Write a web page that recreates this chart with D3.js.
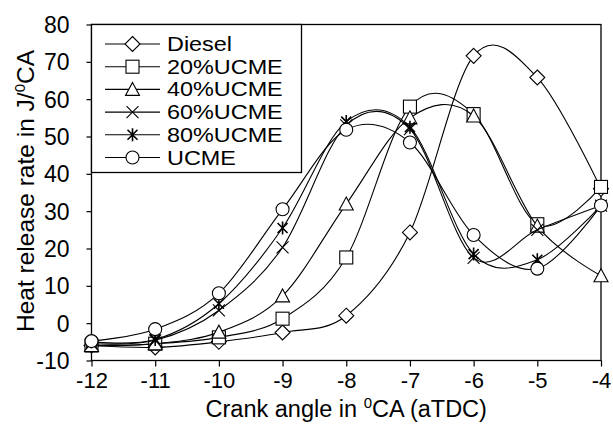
<!DOCTYPE html>
<html><head><meta charset="utf-8">
<script src="https://cdn.jsdelivr.net/npm/d3@7"></script>
<style>
html,body{margin:0;padding:0;background:#fff;}
svg text{font-family:"Liberation Sans",Arial,sans-serif;fill:#000;}
</style></head>
<body><svg id="c" width="613" height="435"></svg>
<script>
const crankAngles = [-12, -11, -10, -9, -8, -7, -6, -5, -4];
const seriesNames = ["Diesel", "20%UCME", "40%UCME", "60%UCME", "80%UCME", "UCME"];
const diesel  = [-6, -6.5, -5, -2.5, 2, 24.3, 71.6, 65.8, 36];
const ucme20  = [-6, -5.5, -3.8, 1.2, 17.6, 58, 56, 26.5, 36.5];
const ucme40  = [-6, -5.5, -2.4, 7.3, 31.9, 55, 55.5, 26, 12.7];
const ucme60  = [-5.5, -4.6, 3.4, 20.3, 53, 52, 17.5, 25, 31.5];
const ucme80  = [-5, -4.4, 5.2, 25.5, 54, 52.5, 18.5, 17, 31.5];
const ucme100 = [-4.8, -1.6, 8, 30.5, 51.8, 48.4, 23.6, 14.6, 31.5];
const seriesValues = [diesel, ucme20, ucme40, ucme60, ucme80, ucme100];
const markerTypes = ["diamond", "square", "triangle", "x", "star", "circle"];
const yTicks = [-10, 0, 10, 20, 30, 40, 50, 60, 70, 80];
const xTicks = [-12, -11, -10, -9, -8, -7, -6, -5, -4];

const svg = d3.select("#c");
const L = 91.5, R = 601, T = 24.5, B = 360.5;
const x = d3.scaleLinear().domain([-12, -4]).range([L, R]);
const y = d3.scaleLinear().domain([-10, 80]).range([B, T]);

function marker(g, type, cx, cy) {
  let el;
  if (type === "diamond") {
    const h = 7.5;
    el = g.append("path").attr("d", `M${cx},${cy-h}L${cx+h},${cy}L${cx},${cy+h}L${cx-h},${cy}Z`);
  } else if (type === "square") {
    el = g.append("rect").attr("x", cx-6.5).attr("y", cy-6.5).attr("width", 13).attr("height", 13);
  } else if (type === "triangle") {
    el = g.append("path").attr("d", `M${cx},${cy-7}L${cx+7},${cy+6}L${cx-7},${cy+6}Z`);
  } else if (type === "circle") {
    el = g.append("circle").attr("cx", cx).attr("cy", cy).attr("r", 6.5);
  } else if (type === "x") {
    el = g.append("path").attr("d", `M${cx-6},${cy-6}L${cx+6},${cy+6}M${cx-6},${cy+6}L${cx+6},${cy-6}`);
  } else if (type === "star") {
    el = g.append("path").attr("d", `M${cx-5},${cy-5}L${cx+5},${cy+5}M${cx-5},${cy+5}L${cx+5},${cy-5}M${cx},${cy-6.5}L${cx},${cy+6.5}`);
  }
  el.attr("stroke", "#000").attr("stroke-width", type === "star" ? 1.6 : 1.1)
    .attr("fill", (type === "x" || type === "star") ? "none" : "#fff");
}

// Axes
const xAxis = d3.axisBottom(x).tickValues(xTicks).tickSize(6).tickFormat(d => d);
const yAxis = d3.axisLeft(y).tickValues(yTicks).tickSize(5).tickFormat(d => d);

const gx = svg.append("g").attr("transform", `translate(0,${B})`).call(xAxis);
gx.select(".domain").remove();
gx.selectAll("line").attr("stroke", "#000").attr("stroke-width", 1.2);
gx.selectAll("text").attr("font-size", 22).attr("y", 12).attr("dy", "0.71em");

const gy = svg.append("g").attr("transform", `translate(${L},0)`).call(yAxis);
gy.select(".domain").remove();
gy.selectAll("line").attr("stroke", "#000").attr("stroke-width", 1.2);
gy.selectAll("text").attr("font-size", 23).attr("x", -22).attr("dy", "0.35em");
svg.selectAll(".tick text").attr("font-family", "Liberation Sans, Arial, sans-serif");

svg.append("rect").attr("x", L).attr("y", T).attr("width", R - L).attr("height", B - T)
  .attr("fill", "none").attr("stroke", "#000").attr("stroke-width", 1.3);

// Series
const line = d3.line().x((d, i) => x(crankAngles[i])).y(d => y(d)).curve(d3.curveCardinal.tension(0));
seriesValues.forEach((vals, si) => {
  const g = svg.append("g");
  g.append("path").attr("d", line(vals)).attr("fill", "none").attr("stroke", "#000").attr("stroke-width", 1.1);
  vals.forEach((v, i) => marker(g, markerTypes[si], x(crankAngles[i]), y(v)));
});

// Legend
const lg = svg.append("g");
lg.append("rect").attr("x", L).attr("y", T).attr("width", 210).attr("height", 148)
  .attr("fill", "#fff").attr("stroke", "#000").attr("stroke-width", 1.3);
seriesNames.forEach((name, i) => {
  const cy = 44 + i * 22.7;
  lg.append("line").attr("x1", 105).attr("x2", 160).attr("y1", cy).attr("y2", cy).attr("stroke", "#000").attr("stroke-width", 1.1);
  marker(lg, markerTypes[i], 132.5, cy);
  const t = lg.append("text").attr("x", 167).attr("y", cy).attr("dy", "0.36em").attr("font-size", 19.5).text(name);
  const w = t.node().getComputedTextLength();
  t.attr("textLength", w * 1.2).attr("lengthAdjust", "spacingAndGlyphs");
});

// Axis titles
const xt = svg.append("text").attr("x", (L + R) / 2).attr("y", 417).attr("text-anchor", "middle").attr("font-size", 23.5);
xt.append("tspan").text("Crank angle in ");
xt.append("tspan").attr("font-size", 15).attr("dy", -9).text("0");
xt.append("tspan").attr("dy", 9).text("CA (aTDC)");

const yt = svg.append("text").attr("transform", "translate(34,191) rotate(-90)").attr("text-anchor", "middle").attr("font-size", 24.5);
yt.append("tspan").text("Heat release rate in J/");
yt.append("tspan").attr("font-size", 15).attr("dy", -9).text("0");
yt.append("tspan").attr("dy", 9).text("CA");
</script></body></html>
